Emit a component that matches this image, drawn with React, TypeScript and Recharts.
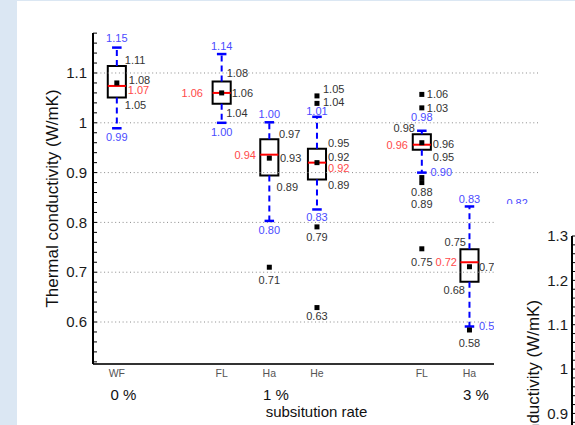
import React from 'react';
import { ComposedChart, LineChart, XAxis, YAxis, Scatter, ReferenceLine, ReferenceArea } from 'recharts';

// ---------------- data ----------------
const categories = ['WF', 'FL', 'Ha', 'He', 'FL', 'Ha', 'He'];
const positions = [1, 3.2, 4.2, 5.2, 7.4, 8.4, 9.4];
const groupLabels = ['0 %', '1 %', '3 %'];
const groupCategoryIndex = [0, 2, 5];

const whiskerHigh = [1.151, 1.138, 1.001, 1.012, 0.984, 0.832, 0.82];
const q3 = [1.114, 1.083, 0.967, 0.948, 0.977, 0.746, null];
const median = [1.074, 1.06, 0.936, 0.92, 0.956, 0.72, null];
const mean = [1.08, 1.06, 0.929, 0.92, 0.96, 0.711, null];
const q1 = [1.051, 1.038, 0.894, 0.886, 0.946, 0.681, null];
const whiskerLow = [0.989, 1.0, 0.803, 0.826, 0.9, 0.591, null];
const outliers = [[], [], [0.71], [1.054, 1.039, 0.791, 0.629], [1.057, 1.03, 0.88, 0.89, 0.747], [0.584], []];

const yMajorTicks = [0.6, 0.7, 0.8, 0.9, 1.0, 1.1];
const insetMajorTicks = [0.6, 0.7, 0.8, 0.9, 1.0, 1.1, 1.2, 1.3];
const yLabel = 'Thermal conductivity (W/mK)';
const xLabel = 'subsitution rate';

// ---------------- styles / layout ----------------
const FONT = '"Liberation Sans", Arial, Helvetica, sans-serif';
const BLUE = '#0000ff';
const BLUE_TXT = '#4b4bff';
const RED_TXT = '#ff4a4a';
const GRAY_TXT = '#333333';
const BOX_HALF = 0.19;
const CAP_HALF = 0.1;

// [box, kind, anchor, dx(px), dy(px)]
const labelPlacement: [number, string, string, number, number][] = [
  [0, 'hi', 'middle', 0, -9], [0, 'q3', 'start', 8, -6], [0, 'mean', 'start', 12, -2.7], [0, 'med', 'start', 11, 4.7], [0, 'q1', 'start', 8, 8], [0, 'lo', 'middle', 0, 8.7],
  [1, 'hi', 'middle', 0, -8.3], [1, 'q3', 'start', 5, -8], [1, 'mean', 'start', 10, 0], [1, 'med', 'end', -18.7, 0], [1, 'q1', 'start', 4.5, 9.3], [1, 'lo', 'middle', 0, 9.7],
  [2, 'hi', 'middle', 0, -8.3], [2, 'q3', 'start', 9.6, -5.3], [2, 'med', 'end', -13.4, 0], [2, 'mean', 'start', 10.6, 0], [2, 'q1', 'start', 7.3, 11.7], [2, 'lo', 'middle', 0, 9], [2, 'o0', 'middle', 0, 13.3],
  [3, 'hi', 'middle', 0, -6], [3, 'q3', 'start', 11, -5.7], [3, 'mean', 'start', 11, -5.6], [3, 'med', 'start', 11, 6], [3, 'q1', 'start', 11, 6], [3, 'lo', 'middle', 0, 7.4], [3, 'o0', 'start', 6, -6.5], [3, 'o1', 'start', 6, -1.5], [3, 'o2', 'middle', 0, 10.3], [3, 'o3', 'middle', 0, 9],
  [4, 'hi', 'middle', 0, -13.5], [4, 'q3', 'end', -6.9, -6.4], [4, 'med', 'end', -13.9, 0], [4, 'mean', 'start', 11, 1.3], [4, 'q1', 'start', 11, 7], [4, 'lo', 'start', 8.8, 0], [4, 'o0', 'start', 5, 0], [4, 'o1', 'start', 5, 0], [4, 'o2', 'middle', 0, 9.4], [4, 'o3', 'middle', 0, 26.7], [4, 'o4', 'middle', 0, 13],
  [5, 'hi', 'middle', 0, -7.4], [5, 'q3', 'end', -3.5, -7.6], [5, 'med', 'end', -12.5, 0], [5, 'mean', 'start', 9.5, 0], [5, 'q1', 'end', -4.5, 8.7], [5, 'lo', 'start', 9.5, 0], [5, 'o0', 'middle', 0, 13.3],
  [6, 'hi', 'middle', 0, -9],
];

const valueOf = (b: number, kind: string): number | null => {
  if (kind === 'hi') return whiskerHigh[b];
  if (kind === 'lo') return whiskerLow[b];
  if (kind === 'q3') return q3[b];
  if (kind === 'q1') return q1[b];
  if (kind === 'med') return median[b];
  if (kind === 'mean') return mean[b];
  if (kind[0] === 'o') return outliers[b][Number(kind.slice(1))];
  return null;
};
const colorOf = (kind: string) => (kind === 'hi' || kind === 'lo' ? BLUE_TXT : kind === 'med' ? RED_TXT : GRAY_TXT);

const labelData = labelPlacement
  .map(([b, kind, anchor, dx, dy]) => {
    const v = valueOf(b, kind);
    if (v == null) return null;
    return { x: positions[b], y: v, text: v.toFixed(2), anchor, dx, dy, color: colorOf(kind) };
  })
  .filter(Boolean) as any[];

const squareData: { x: number; y: number }[] = [];
positions.forEach((p, i) => {
  if (mean[i] != null) squareData.push({ x: p, y: mean[i] as number });
  outliers[i].forEach((o) => squareData.push({ x: p, y: o }));
});

const minorTicks = (lo: number, hi: number) => {
  const arr: number[] = [];
  for (let i = Math.ceil(lo * 50); i <= Math.floor(hi * 50); i++) arr.push(Number((i / 50).toFixed(2)));
  return arr;
};

const MAIN_DOMAIN: [number, number] = [0.5157, 1.1803];
const INSET_DOMAIN: [number, number] = [0.52, 1.3];

const makeYTick = (majors: number[], margin: number) => (props: any) => {
  const { x, y, payload } = props;
  const v = payload.value;
  const ax = x + margin;
  const major = majors.some((m) => Math.abs(m - v) < 1e-6);
  return (
    <g>
      <line x1={ax} x2={ax + 4} y1={y} y2={y} stroke="#000" strokeWidth={1} />
      {major && (
        <text x={x} y={y} dy="0.35em" textAnchor="end" fontSize={15} fontFamily={FONT} fill="#1a1a1a">
          {String(v)}
        </text>
      )}
    </g>
  );
};

const XTick = (props: any) => {
  const { x, y, payload } = props;
  const i = positions.indexOf(payload.value);
  const g = groupCategoryIndex.indexOf(i);
  return (
    <g>
      <text x={x} y={y + 9} dy="0.35em" textAnchor="middle" fontSize={10.5} fontFamily={FONT} fill="#555">
        {categories[i]}
      </text>
      {g >= 0 && (
        <text x={x + 6.5} y={y + 31} dy="0.35em" textAnchor="middle" fontSize={15} fontFamily={FONT} fill="#111">
          {groupLabels[g]}
        </text>
      )}
    </g>
  );
};

const LabelText = (p: any) => {
  const { cx, cy, payload } = p;
  return (
    <text x={cx + payload.dx} y={cy + payload.dy} dy="0.35em" textAnchor={payload.anchor} fontSize={11} fontFamily={FONT} fill={payload.color}>
      {payload.text}
    </text>
  );
};

const Square = (p: any) => <rect x={p.cx - 2.5} y={p.cy - 2.5} width={5} height={5} fill="#000" />;

const yTitle = (xPos: number, fallbackCy: number) => (props: any) => {
  const vb = props && props.viewBox ? props.viewBox : null;
  const cy = vb && typeof vb.y === 'number' ? vb.y + vb.height / 2 : fallbackCy;
  return (
    <text x={xPos} y={cy} dy="0.35em" textAnchor="middle" fontSize={17} fontFamily={FONT} fill="#111" transform={`rotate(-90, ${xPos}, ${cy})`}>
      {yLabel}
    </text>
  );
};

const xTitle = (props: any) => {
  const vb = props && props.viewBox ? props.viewBox : null;
  const cx = vb && typeof vb.x === 'number' ? vb.x + vb.width / 2 : 316.5;
  const top = vb && typeof vb.y === 'number' ? vb.y : 364;
  return (
    <text x={cx} y={top + 48} dy="0.35em" textAnchor="middle" fontSize={15} fontFamily={FONT} fill="#111">
      {xLabel}
    </text>
  );
};

export default function App() {
  const boxes: React.ReactNode[] = [];
  positions.forEach((p, i) => {
    const hi = whiskerHigh[i];
    const lo = whiskerLow[i];
    const top = q3[i];
    const bot = q1[i];
    const med = median[i];
    if (hi != null && top != null)
      boxes.push(<ReferenceLine key={`wh${i}`} segment={[{ x: p, y: top }, { x: p, y: hi }]} stroke={BLUE} strokeWidth={2} strokeDasharray="6 4" />);
    if (lo != null && bot != null)
      boxes.push(<ReferenceLine key={`wl${i}`} segment={[{ x: p, y: bot }, { x: p, y: lo }]} stroke={BLUE} strokeWidth={2} strokeDasharray="6 4" />);
    if (hi != null)
      boxes.push(<ReferenceLine key={`ch${i}`} segment={[{ x: p - CAP_HALF, y: hi }, { x: p + CAP_HALF, y: hi }]} stroke={BLUE} strokeWidth={2.5} />);
    if (lo != null)
      boxes.push(<ReferenceLine key={`cl${i}`} segment={[{ x: p - CAP_HALF, y: lo }, { x: p + CAP_HALF, y: lo }]} stroke={BLUE} strokeWidth={2.5} />);
    if (top != null && bot != null)
      boxes.push(<ReferenceArea key={`b${i}`} x1={p - BOX_HALF} x2={p + BOX_HALF} y1={bot} y2={top} fill="none" fillOpacity={0} stroke="#000" strokeWidth={2} />);
    if (med != null)
      boxes.push(<ReferenceLine key={`m${i}`} segment={[{ x: p - BOX_HALF, y: med }, { x: p + BOX_HALF, y: med }]} stroke="#ff0000" strokeWidth={2} />);
  });

  return (
    <div style={{ position: 'absolute', left: 0, top: 0, width: 575, height: 425, overflow: 'hidden', background: '#dbe7f3', fontFamily: FONT }}>
      <div style={{ position: 'absolute', left: 17, top: 1, right: 0, bottom: 0, background: '#fff' }} />
      <div style={{ position: 'absolute', left: 0, top: 0 }}>
        <ComposedChart width={575} height={425} margin={{ top: 33, right: 35, bottom: 0, left: 0 }}>
          <XAxis
            type="number"
            dataKey="x"
            domain={[0.5, 9.88]}
            allowDataOverflow
            ticks={positions}
            interval={0}
            height={61}
            tickSize={0}
            tickMargin={0}
            tick={XTick}
            axisLine={{ stroke: '#333', strokeWidth: 2 }}
            tickLine={false}
            label={xTitle}
          />
          <YAxis
            type="number"
            dataKey="y"
            domain={MAIN_DOMAIN}
            allowDataOverflow
            ticks={minorTicks(MAIN_DOMAIN[0], MAIN_DOMAIN[1])}
            interval={0}
            width={93}
            tickSize={0}
            tickMargin={6}
            tick={makeYTick(yMajorTicks, 6)}
            tickLine={false}
            axisLine={{ stroke: '#000', strokeWidth: 2 }}
            label={yTitle(52, 198.5)}
          />
          {yMajorTicks.map((v) => (
            <ReferenceLine key={`g${v}`} y={v} stroke="#8a8a8a" strokeWidth={1} strokeDasharray="1 2.7" />
          ))}
          {boxes}
          <Scatter data={squareData} shape={Square} isAnimationActive={false} />
          <Scatter data={labelData} shape={LabelText} isAnimationActive={false} />
        </ComposedChart>
      </div>
      <div style={{ position: 'absolute', left: 494, top: 204, width: 81, height: 221, background: '#fff', overflow: 'hidden' }}>
        <LineChart width={122} height={378} margin={{ top: 32, right: 0, bottom: 0, left: 0 }}>
          <XAxis hide type="number" domain={[0, 1]} />
          <YAxis
            type="number"
            domain={INSET_DOMAIN}
            allowDataOverflow
            ticks={minorTicks(INSET_DOMAIN[0], INSET_DOMAIN[1])}
            interval={0}
            width={78}
            tickSize={0}
            tickMargin={4}
            tick={makeYTick(insetMajorTicks, 4)}
            tickLine={false}
            axisLine={{ stroke: '#000', strokeWidth: 2 }}
            label={yTitle(39, 205)}
          />
        </LineChart>
      </div>
    </div>
  );
}
